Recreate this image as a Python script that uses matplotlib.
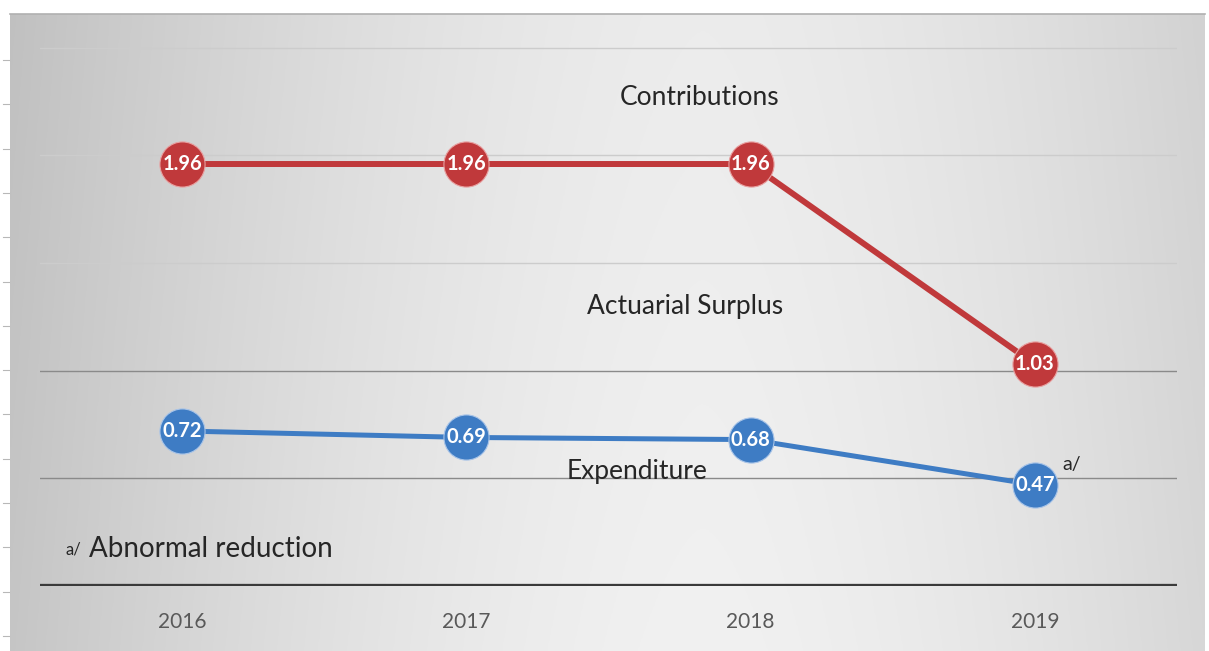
import numpy as np
import matplotlib
matplotlib.use("Agg")
import matplotlib.pyplot as plt

years = ["2016", "2017", "2018", "2019"]
contributions = [1.96, 1.96, 1.96, 1.03]
expenditure = [0.72, 0.69, 0.68, 0.47]
grid_values = [0.5, 1.0, 1.5, 2.0, 2.5]

plt.rcParams['font.family'] = ['Lato', 'DejaVu Sans']

W, H = 1209, 651
fig = plt.figure(figsize=(W / 100, H / 100), dpi=100)
fig.patch.set_facecolor("white")

# background gradient panel
bg = fig.add_axes([10 / W, 0, 1195 / W, (H - 14) / H])
xs = np.linspace(0, 1, 400)
ys = np.linspace(0, 1, 200)
X, Y = np.meshgrid(xs, ys)
d = np.abs(X - 0.58) / 0.58
val = 0.945 - 0.17 * d ** 1.6 - 0.02 * Y
bg.imshow(np.dstack([val, val, val]), aspect="auto", extent=[0, 1, 0, 1], origin="lower")
bg.set_xlim(0, 1)
bg.set_ylim(0, 1)
bg.axis("off")
fig.add_artist(plt.Line2D([10 / W, 1205 / W], [(H - 14) / H, (H - 14) / H],
                          color="#b0b0b0", lw=1.2, transform=fig.transFigure))
# faint left ticks
for ty in np.arange(60, 651, 44.3):
    fig.add_artist(plt.Line2D([3 / W, 9 / W], [(H - ty) / H, (H - ty) / H],
                              color="#b8b8b8", lw=0.8, transform=fig.transFigure))

ax = fig.add_axes([40 / W, 65 / H, 1137 / W, 572 / H])
ax.set_facecolor("none")
ax.set_xlim(-0.5, 3.5)
ax.set_ylim(0, 572 / 215.3)
x = np.arange(len(years))

for g in grid_values:
    c = "#8a8a8a" if g <= 1.0 else "#cccccc"
    ax.axhline(g, color=c, lw=1.0, zorder=1)
ax.axhline(0, color="#3a3a3a", lw=3.8, zorder=2)

for s in ax.spines.values():
    s.set_visible(False)
ax.set_yticks([])
ax.set_xticks(x)
ax.set_xticklabels(years, fontsize=15, color="#595959")
ax.tick_params(axis="x", length=0, pad=19)

red = "#C0393B"
blue = "#3E7CC4"
ax.plot(x, contributions, color=red, lw=4.3, zorder=3, solid_capstyle="round")
ax.plot(x, expenditure, color=blue, lw=3.6, zorder=3, solid_capstyle="round")
ax.plot(x, contributions, "o", ms=32.5, color=red, mec="#e8a0a0", mew=0.8, zorder=4)
ax.plot(x, expenditure, "o", ms=32.5, color=blue, mec="#a8c4e8", mew=0.8, zorder=4)
for xi, v in zip(x, contributions):
    ax.text(xi, v, f"{v:.2f}", color="white", fontsize=14.5, fontweight="bold",
            ha="center", va="center", zorder=5)
for xi, v in zip(x, expenditure):
    ax.text(xi, v, f"{v:.2f}", color="white", fontsize=14.5, fontweight="bold",
            ha="center", va="center", zorder=5)

ax.text(1.822, 2.271, "Contributions", fontsize=19, color="#262626", ha="center", va="center")
ax.text(1.77, 1.296, "Actuarial Surplus", fontsize=19, color="#262626", ha="center", va="center")
ax.text(1.60, 0.53, "Expenditure", fontsize=19, color="#262626", ha="center", va="center")
ax.text(3.095, 0.565, "a/", fontsize=14, color="#262626", ha="left", va="center", zorder=6)
ax.text(-0.41, 0.168, "a/", fontsize=12, color="#262626", ha="left", va="center")
ax.text(-0.326, 0.172, "Abnormal reduction", fontsize=20, color="#262626", ha="left", va="center")

fig.savefig("out.png", dpi=100)
